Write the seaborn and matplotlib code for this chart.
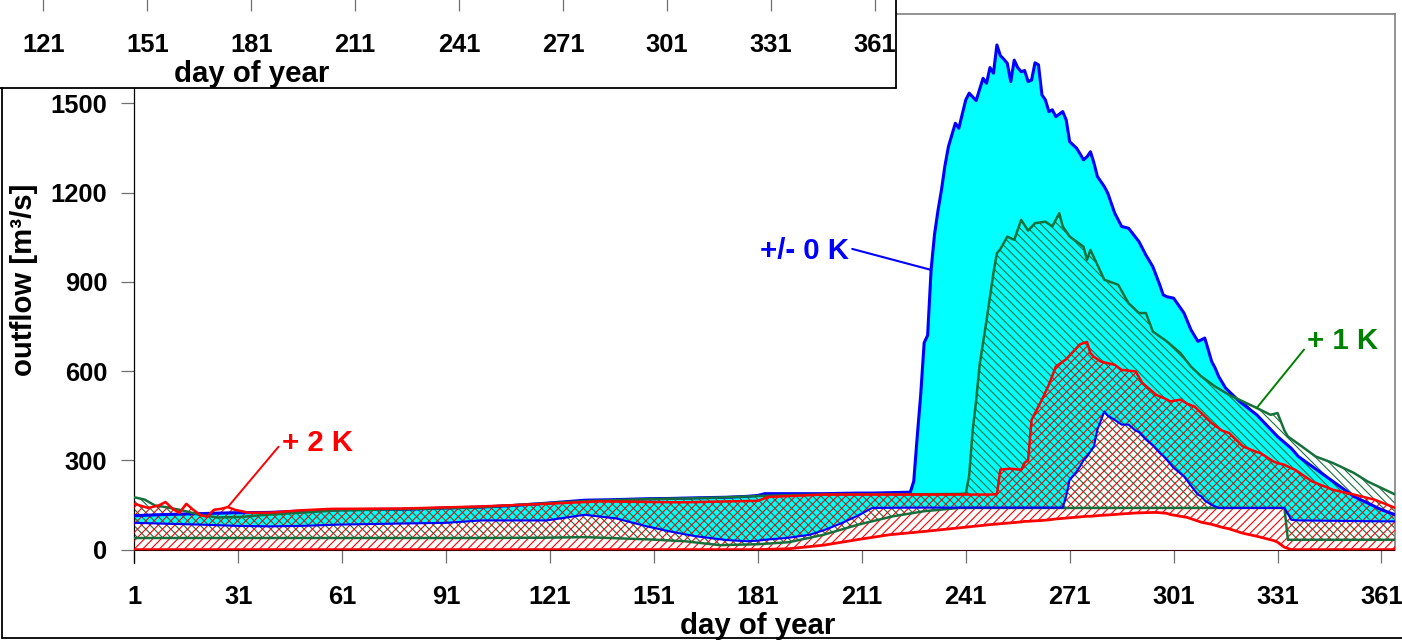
import matplotlib
matplotlib.use("Agg")
import matplotlib.pyplot as plt
from matplotlib.lines import Line2D
from matplotlib.patches import Rectangle
import seaborn as sns

# ---------------- outflow data [m3/s] per warming scenario ----------------
# +/- 0 K : upper (unregulated) and lower (regulated) outflow
days_0k = [1, 10, 20, 30, 40, 50, 60, 70, 80, 91,
           101, 110, 120, 131, 140, 149, 156, 163, 172, 178,
           181, 183, 190, 196, 200, 205, 210, 214, 225, 226,
           227, 228, 229, 230, 231, 232, 233, 234, 235, 236,
           238, 239, 241, 242, 244, 246, 247, 248, 249, 250,
           251, 252, 253, 254, 255, 256, 257, 258, 259, 260,
           261, 262, 263, 264, 265, 266, 267, 269, 270, 271,
           273, 274, 275, 276, 277, 278, 279, 281, 282, 284,
           286, 288, 290, 291, 293, 295, 297, 298, 299, 301,
           304, 306, 308, 309, 310, 312, 313, 314, 316, 320,
           325, 331, 333, 335, 337, 345, 353, 361, 365]
high_0k = [114, 118, 121, 124, 125, 130, 134, 135, 136, 140,
           143, 148, 156, 166, 168, 171, 172, 174, 176, 179,
           182, 188, 188, 188, 188, 189, 190, 190, 193, 230,
           380, 520, 695, 720, 940, 1060, 1140, 1209, 1290, 1354,
           1433, 1416, 1511, 1534, 1509, 1584, 1567, 1620, 1601, 1696,
           1660, 1648, 1634, 1573, 1645, 1620, 1606, 1610, 1573, 1578,
           1636, 1629, 1528, 1511, 1472, 1478, 1455, 1472, 1444, 1371,
           1349, 1330, 1310, 1320, 1337, 1300, 1254, 1220, 1198, 1131,
           1086, 1080, 1050, 1035, 990, 951, 890, 856, 850, 845,
           795, 739, 700, 705, 711, 632, 610, 582, 543, 498,
           453, 380, 360, 340, 313, 246, 179, 134, 117]
low_0k = [90, 87, 84, 80, 78, 80, 84, 86, 88, 90,
          98, 98, 98, 117, 105, 78, 60, 45, 32, 28,
          30, 33, 40, 50, 65, 88, 115, 140, 141, 141,
          141, 141, 141, 141, 141, 141, 141, 141, 141, 141,
          141, 141, 141, 141, 141, 141, 141, 141, 141, 141,
          141, 141, 141, 141, 141, 141, 141, 141, 141, 141,
          141, 141, 141, 141, 141, 141, 141, 141, 180, 235,
          262, 280, 300, 313, 330, 347, 403, 464, 450, 436,
          420, 420, 400, 395, 370, 350, 325, 315, 302, 275,
          246, 215, 185, 179, 165, 150, 145, 140, 140, 140,
          140, 140, 140, 100, 98, 97, 96, 95, 95]

# + 1 K
days_1k = [1, 4, 7, 10, 14, 20, 25, 32, 39, 50,
           60, 80, 100, 120, 131, 150, 160, 170, 181, 190,
           200, 210, 220, 229, 239, 241, 242, 243, 244, 245,
           247, 249, 250, 251, 253, 255, 257, 259, 261, 264,
           266, 268, 269, 271, 273, 275, 276, 277, 281, 285,
           288, 291, 293, 295, 299, 303, 306, 309, 313, 317,
           321, 325, 329, 331, 333, 334, 338, 342, 347, 353,
           357, 363, 365]
high_1k = [176, 168, 148, 143, 134, 117, 108, 110, 117, 125,
           132, 136, 142, 156, 163, 170, 172, 175, 180, 183,
           185, 186, 186, 186, 187, 188, 250, 400, 500, 620,
           770, 930, 996, 1010, 1052, 1041, 1108, 1072, 1097, 1102,
           1086, 1131, 1086, 1052, 1035, 1018, 974, 1007, 907, 890,
           828, 795, 795, 733, 700, 660, 615, 582, 548, 520,
           498, 476, 453, 459, 400, 380, 347, 313, 291, 258,
           229, 196, 185]
low_1k = [39, 39, 39, 39, 39, 39, 39, 39, 39, 39,
          39, 39, 39, 40, 42, 34, 28, 15, 18, 25,
          50, 84, 112, 129, 140, 140, 140, 140, 140, 140,
          140, 140, 140, 140, 140, 140, 140, 140, 140, 140,
          140, 140, 140, 140, 140, 140, 140, 140, 140, 140,
          140, 140, 140, 140, 140, 140, 140, 140, 140, 140,
          140, 140, 140, 140, 140, 33, 33, 33, 33, 33,
          33, 33, 33]

# + 2 K
days_2k = [1, 5, 8, 10, 12, 14, 16, 18, 20, 22,
           24, 26, 28, 30, 34, 40, 49, 58, 78, 101,
           120, 135, 159, 181, 184, 190, 200, 210, 219, 229,
           239, 248, 250, 251, 254, 257, 258, 259, 260, 263,
           265, 267, 270, 272, 274, 276, 277, 278, 280, 284,
           286, 290, 292, 296, 299, 300, 303, 305, 307, 309,
           312, 315, 317, 321, 325, 326, 330, 331, 333, 335,
           336, 341, 347, 353, 359, 365]
high_2k = [154, 140, 148, 160, 138, 123, 154, 134, 117, 110,
           134, 137, 143, 134, 124, 124, 132, 137, 138, 145,
           154, 162, 159, 164, 177, 180, 185, 185, 185, 185,
           185, 185, 186, 269, 272, 268, 292, 300, 436, 504,
           554, 615, 640, 665, 690, 698, 660, 648, 632, 621,
           604, 599, 560, 520, 505, 498, 504, 490, 481, 459,
           425, 400, 392, 347, 328, 325, 295, 291, 285, 273,
           269, 229, 201, 185, 168, 140]
low_2k = [0, 0, 0, 0, 0, 0, 0, 0, 0, 0,
          0, 0, 0, 0, 0, 0, 0, 0, 0, 0,
          0, 0, 0, 0, 1, 3, 15, 34, 50, 61,
          73, 84, 86, 87, 90, 93, 95, 95, 96, 98,
          100, 103, 106, 108, 110, 112, 112, 113, 115, 118,
          120, 123, 124, 125, 122, 118, 112, 108, 100, 92,
          85, 75, 70, 55, 45, 42, 30, 25, 8, 0,
          0, 0, 0, 0, 0, 0]

x_ticks = [1, 31, 61, 91, 121, 151, 181, 211, 241, 271, 301, 331, 361]
y_ticks = [0, 300, 600, 900, 1200, 1500]

# ---------------- style ----------------
BLUE = "#0000ff"
CYAN = "#00ffff"
GREEN_LINE = "#17703c"
GREEN_TEXT = "#008000"
RED = "#ff0000"
TICK_GREY = "#707070"

sns.set_style("white")
plt.rcParams["font.family"] = ["Liberation Sans", "DejaVu Sans"]
plt.rcParams["font.weight"] = "bold"
plt.rcParams["hatch.linewidth"] = 0.8
for key in ("text.color", "axes.labelcolor", "xtick.labelcolor",
            "ytick.labelcolor"):
    plt.rcParams[key] = "black"

TICK_FS = 18.4
LABEL_FS = 21.2

W, H = 1402, 640
fig = plt.figure(figsize=(W / 100, H / 100), dpi=100, facecolor="white")


def fx(px):
    return px / W


def fy(py):
    return 1 - py / H


def style_axis(a, ticks):
    a.set_xlim(1, 365)
    a.set_ylim(-45, 1800)
    a.set_xticks(ticks)
    a.set_xticklabels([str(t) for t in ticks])
    a.tick_params(axis="x", direction="in", length=9.4, width=0.9,
                  color=TICK_GREY, labelcolor="black", pad=15.5,
                  labelsize=TICK_FS, bottom=True, top=False)
    a.set_xlabel("day of year", fontsize=LABEL_FS, fontweight="bold",
                 color="black")
    a.xaxis.set_label_coords(0.4946, -0.089)
    a.xaxis.label.set_va("top")


# ---------------- main panel ----------------
ax = fig.add_axes([fx(134.3), fy(563), 1261 / W, 549 / H])
ax.set_facecolor("white")
style_axis(ax, x_ticks)

ax.fill_between(days_0k, low_0k, high_0k, facecolor=CYAN,
                edgecolor="none", linewidth=0, zorder=1)
ax.fill_between(days_1k, low_1k, high_1k, facecolor="none",
                edgecolor=GREEN_LINE, hatch="\\\\\\\\", linewidth=0, zorder=2)
ax.fill_between(days_2k, low_2k, high_2k, facecolor="none",
                edgecolor=RED, hatch="////", linewidth=0, zorder=3)

line_kw = dict(ax=ax, estimator=None, legend=False)
sns.lineplot(x=days_2k, y=low_2k, color=RED, linewidth=2.0, zorder=5, **line_kw)
sns.lineplot(x=days_1k, y=low_1k, color=GREEN_LINE, linewidth=1.8, zorder=5, **line_kw)
sns.lineplot(x=days_0k, y=low_0k, color=BLUE, linewidth=1.5, zorder=5, **line_kw)
sns.lineplot(x=days_0k, y=high_0k, color=BLUE, linewidth=2.2, zorder=6, **line_kw)
sns.lineplot(x=days_1k, y=high_1k, color=GREEN_LINE, linewidth=1.8, zorder=6.2, **line_kw)
sns.lineplot(x=days_2k, y=high_2k, color=RED, linewidth=1.8, zorder=6.4, **line_kw)
# zero line of the outflow axis
ax.axhline(0, color="#400000", lw=0.8, zorder=7)

ax.set_yticks(y_ticks)
ax.set_yticklabels([str(t) for t in y_ticks])
ax.tick_params(axis="y", direction="out", length=9.4, width=0.9,
               color=TICK_GREY, labelcolor="black", pad=10,
               labelsize=TICK_FS, left=True)
ax.set_ylabel("outflow [m³/s]", fontsize=LABEL_FS, fontweight="bold",
              color="black")
ax.yaxis.set_label_coords(-0.0764, 0.5155)

ax.spines["bottom"].set_visible(False)
ax.spines["left"].set_color("black")
ax.spines["left"].set_linewidth(0.9)
for side in ("top", "right"):
    ax.spines[side].set_color("#808080")
    ax.spines[side].set_linewidth(1.2)
ax.spines["right"].set_bounds(0, 1800)

# scenario labels with leader lines
i0 = days_0k.index(231)
ax.annotate("+/- 0 K", xy=(days_0k[i0], high_0k[i0]), xytext=(207.3, 1004),
            ha="right", va="center", color=BLUE, fontsize=LABEL_FS,
            fontweight="bold", zorder=8,
            arrowprops=dict(arrowstyle="-", color=BLUE, lw=1.5,
                            shrinkA=0, shrinkB=0, relpos=(1.0, 0.6)))
i1 = days_1k.index(325)
ax.annotate("+ 1 K", xy=(days_1k[i1], high_1k[i1]), xytext=(339.6, 700),
            ha="left", va="center", color=GREEN_TEXT, fontsize=LABEL_FS,
            fontweight="bold", zorder=8,
            arrowprops=dict(arrowstyle="-", color=GREEN_TEXT, lw=1.4,
                            shrinkA=0, shrinkB=0, relpos=(0.0, 0.35)))
i2 = days_2k.index(28)
ax.annotate("+ 2 K", xy=(days_2k[i2], high_2k[i2]), xytext=(43.6, 359),
            ha="left", va="center", color=RED, fontsize=LABEL_FS,
            fontweight="bold", zorder=8,
            arrowprops=dict(arrowstyle="-", color=RED, lw=1.4,
                            shrinkA=0, shrinkB=0, relpos=(0.0, 0.5)))

# ---------------- frame of the lower panel ----------------
fig.add_artist(Line2D([fx(2), fx(2)], [fy(88), fy(637.5)], color="black",
                      lw=1.3, transform=fig.transFigure, zorder=3))
fig.add_artist(Line2D([fx(2), 1], [fy(637.5), fy(637.5)], color="black",
                      lw=1.3, transform=fig.transFigure, zorder=3))

# ---------------- lower edge of the panel above ----------------
fig.add_artist(Rectangle((0, fy(88)), fx(896), 88 / H, facecolor="white",
                         edgecolor="none", transform=fig.transFigure, zorder=1))
fig.add_artist(Line2D([fx(896), fx(896)], [fy(0), fy(88)], color="black",
                      lw=1.3, transform=fig.transFigure, zorder=3))
fig.add_artist(Line2D([0, fx(896)], [fy(88), fy(88)], color="black",
                      lw=1.3, transform=fig.transFigure, zorder=3))

ax_up = fig.add_axes([fx(134.3 - 506.6), fy(11), 1261 / W, 549 / H])
ax_up.set_zorder(2)
ax_up.set_facecolor("white")
style_axis(ax_up, x_ticks[4:])
ax_up.set_yticks([])
for side in ax_up.spines:
    ax_up.spines[side].set_visible(False)

fig.savefig("out.png", dpi=100, facecolor="white")
